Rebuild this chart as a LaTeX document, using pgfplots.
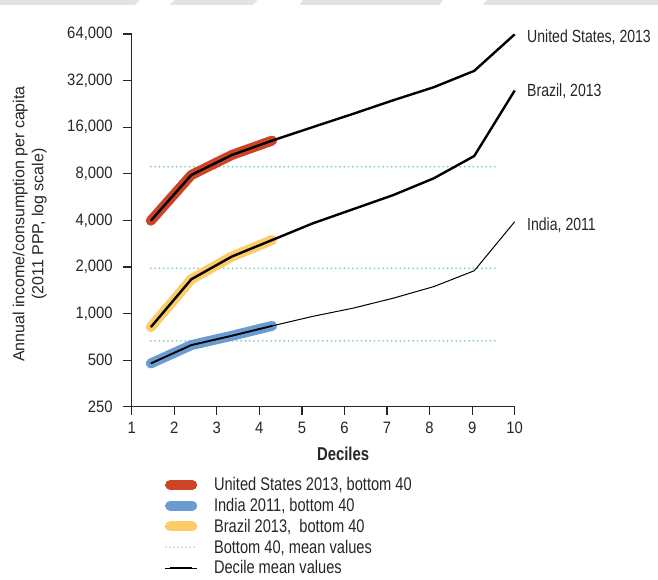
\documentclass[border=0pt]{standalone}
\usepackage{fontspec}
\setmainfont{Liberation Sans}
\newfontfamily\cond{Liberation Sans}[FakeStretch=0.8]
\newfontfamily\tickf{Liberation Sans}[FakeStretch=0.9]
\usepackage{pgfplots}
\pgfplotsset{compat=1.18}

\definecolor{usred}{HTML}{CC4426}
\definecolor{inblue}{HTML}{6A9BD3}
\definecolor{bryellow}{HTML}{FDCB68}
\definecolor{dotteal}{HTML}{86CCC4}
\definecolor{axgray}{HTML}{262626}

\begin{document}
\begin{tikzpicture}
% page frame: axis box sits at (0,0), 383pt x 372.7pt
\path[use as bounding box] (-131.7pt,-172.3pt) rectangle (526.3pt,406.7pt);
% faint header band
\fill[black!11] (-131.7pt,401.7pt) -- (3pt,401.7pt) -- (8pt,406.7pt) -- (-131.7pt,406.7pt) -- cycle;
\fill[black!11] (38pt,401.7pt) -- (121pt,401.7pt) -- (126pt,406.7pt) -- (43pt,406.7pt) -- cycle;
\fill[black!11] (168pt,401.7pt) -- (308pt,401.7pt) -- (311pt,406.7pt) -- (171pt,406.7pt) -- cycle;
\fill[black!11] (351pt,401.7pt) -- (526.3pt,401.7pt) -- (526.3pt,406.7pt) -- (355pt,406.7pt) -- cycle;

\begin{axis}[
  at={(0pt,0pt)}, anchor=south west,
  scale only axis, width=383pt, height=372.7pt,
  xmin=1, xmax=10,
  ymode=log, ymin=250, ymax=64000,
  clip=false,
  axis x line*=bottom, axis y line*=left,
  axis line style={line width=1.2pt, axgray},
  xtick={1,2,...,10},
  xticklabels={1,2,3,4,5,6,7,8,9,10},
  ytick={250,500,1000,2000,4000,8000,16000,32000,64000},
  yticklabels={250,500,{1,000},{2,000},{4,000},{8,000},{16,000},{32,000},{64,000}},
  tick align=outside,
  major tick length=8.5pt,
  minor tick length=0pt,
  tick style={line width=1.2pt, axgray},
  ticklabel style={font=\tickf\fontsize{16.5}{19}\selectfont, text=axgray},
  yticklabel style={xshift=-7pt},
  xticklabel style={yshift=-3pt},
  /pgf/number format/assume math mode=true,
  every axis y label/.style={at={(axis description cs:-0.266,0.49)}, rotate=90, anchor=center,
    align=center, font=\fontsize{16}{19}\selectfont, text=axgray},
  ylabel={Annual income/consumption per capita\\(2011 PPP, log scale)},
  every axis x label/.style={at={(axis description cs:0.552,0)}, anchor=base, yshift=-54pt,
    font=\cond\bfseries\fontsize{18.6}{22}\selectfont, text=axgray},
  xlabel={Deciles},
  legend style={at={(axis description cs:0.087,-0.19)}, anchor=north west,
    draw=none, fill=none, inner sep=0pt, outer sep=0pt,
    row sep=6pt, column sep=16pt,
    nodes={inner sep=0pt, text=axgray},
    font=\cond\fontsize{18.3}{22}\selectfont},
  legend cell align=left,
]

% bottom-40 mean values
\addplot[dotteal, line width=2pt, dash pattern=on 0pt off 4.3pt, line cap=round, forget plot]
  coordinates {(1.45,8880) (9.57,8880)};
\addplot[dotteal, line width=2pt, dash pattern=on 0pt off 4.3pt, line cap=round, forget plot]
  coordinates {(1.45,1960) (9.57,1960)};
\addplot[dotteal, line width=2pt, dash pattern=on 0pt off 4.3pt, line cap=round, forget plot]
  coordinates {(1.45,666) (9.57,666)};

% bottom 40 highlight bands
\addplot[usred, line width=10pt, line cap=round, line join=round, forget plot]
  coordinates {(1.45,3980) (2.40,7850) (3.35,10570) (4.30,13100)};
\addplot[bryellow, line width=10pt, line cap=round, line join=round, forget plot]
  coordinates {(1.45,817) (2.40,1664) (3.35,2332) (4.30,2985)};
\addplot[inblue, line width=10pt, line cap=round, line join=round, forget plot]
  coordinates {(1.45,476) (2.40,625) (3.35,718) (4.30,832)};

% decile mean values
\addplot[black, line width=2.4pt, line join=round, forget plot]
  coordinates {(1.45,3980) (2.40,7850) (3.35,10570) (4.30,13100) (5.25,16000)
               (6.20,19500) (7.15,23900) (8.10,29000) (9.05,37000) (10.00,63700)};
\addplot[black, line width=2.4pt, line join=round, forget plot]
  coordinates {(1.45,817) (2.40,1664) (3.35,2332) (4.30,2985) (5.25,3820)
               (6.20,4720) (7.15,5830) (8.10,7480) (9.05,10420) (10.00,27600)};
\addplot[black, line width=1pt, line join=round, forget plot]
  coordinates {(1.45,476) (2.40,625) (3.35,718) (4.30,832) (5.25,958)
               (6.20,1083) (7.15,1257) (8.10,1493) (9.05,1890) (10.00,3920)};
\addplot[black, line width=1.8pt, line join=round, forget plot]
  coordinates {(1.45,476) (2.40,625) (3.35,718) (4.30,832)};

% series names
\node[anchor=base west, font=\cond\fontsize{17.6}{21}\selectfont, text=axgray]
  at (axis cs:10.21,56600) {United States, 2013};
\node[anchor=base west, font=\cond\fontsize{17.6}{21}\selectfont, text=axgray]
  at (axis cs:10.21,25200) {Brazil, 2013};
\node[anchor=base west, font=\cond\fontsize{17.6}{21}\selectfont, text=axgray]
  at (axis cs:10.21,3430) {India, 2011};

% legend
\addlegendimage{legend image code/.code={\path (0pt,0pt) -- (32pt,0pt);
  \draw[usred, line width=10pt, line cap=round] (5pt,0pt) -- (27pt,0pt);}}
\addlegendentry{United States 2013, bottom 40}
\addlegendimage{legend image code/.code={\path (0pt,0pt) -- (32pt,0pt);
  \draw[inblue, line width=10pt, line cap=round] (5pt,0pt) -- (27pt,0pt);}}
\addlegendentry{India 2011, bottom 40}
\addlegendimage{legend image code/.code={\path (0pt,0pt) -- (32pt,0pt);
  \draw[bryellow, line width=10pt, line cap=round] (5pt,0pt) -- (27pt,0pt);}}
\addlegendentry{Brazil 2013,\ \ bottom 40}
\addlegendimage{legend image code/.code={
  \draw[dotteal, line width=1.6pt, dash pattern=on 0pt off 4pt, line cap=round] (1pt,0pt) -- (32pt,0pt);}}
\addlegendentry{Bottom 40, mean values}
\addlegendimage{legend image code/.code={\path (0pt,0pt) -- (32pt,0pt);
  \draw[black, line width=2.4pt] (5pt,0pt) -- (27pt,0pt);}}
\addlegendentry{Decile mean values}
\end{axis}
\end{tikzpicture}
\end{document}
